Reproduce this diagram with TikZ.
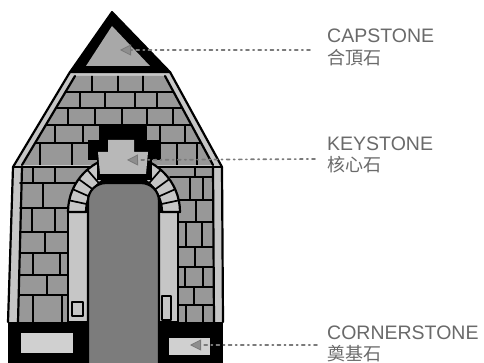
\documentclass[tikz,border=0pt]{standalone}
\usepackage{fontspec}
\setmainfont{Liberation Sans}
\newfontfamily\cjkfont{Noto Sans CJK TC}
\usetikzlibrary{arrows.meta}
\definecolor{brick}{HTML}{989898}
\definecolor{lightstone}{HTML}{C6C6C6}
\definecolor{doorgray}{HTML}{7C7C7C}
\definecolor{capgray}{HTML}{A8A8A8}
\definecolor{keygray}{HTML}{B8B8B8}
\definecolor{baseinner}{HTML}{D0D0D0}
\definecolor{labelgray}{HTML}{6A6A6A}
\definecolor{pointergray}{HTML}{7A7A7A}
\definecolor{headgray}{HTML}{8E8E8E}
\begin{document}
\begin{tikzpicture}[x=1pt,y=-1pt,line join=round,line cap=round,
  ink/.style={draw=black,line width=2.2pt},
  joint/.style={black,line width=1.7pt},
  pointer/.style={draw=pointergray,line width=1.7pt,dash pattern=on 3pt off 4pt on 1.2pt off 4pt,
    -{Triangle[length=11pt,width=11pt,fill=headgray,line width=0.8pt]}},
  labeltext/.style={anchor=base west,text=labelgray,inner sep=0pt,font=\fontsize{19.5}{22}\selectfont},
  cjktext/.style={anchor=base west,text=labelgray,inner sep=0pt,font=\cjkfont\fontsize{18}{20}\selectfont}]
\useasboundingbox (0,0) rectangle (484,363);
\fill[white] (0,0) rectangle (484,363);

% ---------- roof ----------
\fill[lightstone] (13,167) -- (70,72) -- (170,72) -- (222,167) -- cycle;
\fill[brick] (22,165) -- (75,76) -- (165,76) -- (213,165) -- cycle;
\begin{scope}
  \clip (22,165) -- (75,76) -- (165,76) -- (213,165) -- cycle;
  \foreach \yy in {92,108,125,143} \draw[joint] (0,\yy) -- (240,\yy);
  \draw[joint] (92,76)--(92,92) (118,76)--(118,92) (143,76)--(143,92)
    (80,92)--(80,108) (105,92)--(105,108) (135,92)--(135,108) (157,92)--(157,108)
    (68,108)--(68,125) (95,108)--(95,125) (122,108)--(122,125) (147,108)--(147,125) (173,108)--(173,125)
    (55,125)--(55,143) (83,125)--(83,143) (160,125)--(160,143) (185,125)--(185,143)
    (40,143)--(40,165) (72,143)--(72,165) (177,143)--(177,165) (197,143)--(197,165);
\end{scope}
\draw[ink] (13,167) -- (70,72) -- (170,72) -- (222,167);
\draw[ink] (22,165) -- (75,76);
\draw[ink] (165,76) -- (213,165);

% ---------- capstone ----------
\filldraw[black,line width=2pt] (112,12) -- (70,72) -- (170,72) -- cycle;
\fill[capgray] (112,26) -- (86,66) -- (150,66) -- cycle;

% ---------- walls ----------
\fill[brick] (18,167) rectangle (214,322);
\fill[lightstone] (13,167) -- (22,167) -- (18,322) -- (8,322) -- cycle;
\fill[lightstone] (213,167) -- (222,167) -- (223,322) -- (214,322) -- cycle;
\foreach \yy in {183,208,232,253,275,295} \draw[joint] (20,\yy) -- (76,\yy);
\draw[joint] (33,167)--(33,183) (55,167)--(55,183) (43,183)--(43,208)
  (32,208)--(32,232) (55,208)--(55,232) (45,232)--(45,253)
  (33,253)--(33,275) (60,253)--(60,275) (47,275)--(47,295)
  (33,295)--(33,322) (62,295)--(62,322);
\foreach \yy in {177,200,222,247,267,287,305} \draw[joint] (170,\yy) -- (213,\yy);
\draw[joint] (195,167)--(195,177) (190,177)--(190,200) (203,177)--(203,200)
  (196,200)--(196,222) (186,222)--(186,247) (202,222)--(202,247)
  (195,247)--(195,267) (185,267)--(185,287) (203,267)--(203,287)
  (194,287)--(194,305) (186,305)--(186,322) (203,305)--(203,322);
\draw[ink] (13,167) -- (8,322);
\draw[ink] (22,167) -- (18,322);
\draw[ink] (213,167) -- (214,322);
\draw[ink] (222,167) -- (223,322);
\draw[ink] (13,167) -- (222,167);

% ---------- piers ----------
\filldraw[fill=lightstone,ink] (68,212) rectangle (88,322);
\filldraw[fill=lightstone,ink] (159,212) rectangle (178,322);
\draw[joint] (72,302) rectangle (83,316);
\draw[joint] (162,296) rectangle (171,320);

% ---------- arch ----------
\filldraw[fill=lightstone,ink] (68,212) arc[start angle=180,end angle=360,radius=56]
  -- (162,212) arc[start angle=360,end angle=180,radius=38] -- cycle;
\foreach \a in {192,204,216,229,311,324,336,348}
  \draw[joint] ([shift={(\a:38)}]124,212) -- ([shift={(\a:56)}]124,212);
\fill[black] (86,212) arc[start angle=180,end angle=360,radius=38] -- cycle;

% ---------- keystone ----------
\filldraw[black,line width=1pt] (99,127) -- (146,127) -- (146,141) -- (160,141) -- (160,160)
  -- (151,160) -- (151,180) -- (97,180) -- (97,160) -- (88,160) -- (88,141) -- (99,141) -- cycle;
\fill[keygray] (108,140) -- (134,140) -- (134,152) -- (148,152) -- (146,174)
  -- (100,174) -- (98,152) -- (108,152) -- cycle;

% ---------- door ----------
\filldraw[fill=doorgray,ink] (88,363) -- (88,201) arc[start angle=180,end angle=270,radius=18]
  -- (141,183) arc[start angle=270,end angle=360,radius=18] -- (159,363);

% ---------- base blocks ----------
\fill[black] (8,322) rectangle (88,363);
\filldraw[fill=baseinner,draw=black,line width=1pt] (20,332) rectangle (73,353);
\fill[black] (158,322) rectangle (223,363);
\filldraw[fill=baseinner,draw=black,line width=1pt] (168,337) rectangle (210,355);

% ---------- labels ----------
\node[labeltext] (capEn) at (327,43) {CAPSTONE};
\node[cjktext] (capZh) at (327,65) {合頂石};
\node[labeltext] (keyEn) at (327,151) {KEYSTONE};
\node[cjktext] (keyZh) at (327,172) {核心石};
\node[labeltext] (cornEn) at (327,339) {CORNERSTONE};
\node[cjktext] (cornZh) at (327,360) {奠基石};

\coordinate (capTail) at (310,50);
\coordinate (capHead) at (120,50);
\coordinate (keyTail) at (315,159);
\coordinate (keyHead) at (127,160);
\coordinate (cornTail) at (317,345);
\coordinate (cornHead) at (190,345);
\draw[pointer] (capTail) -- (capHead);
\draw[pointer] (keyTail) -- (keyHead);
\draw[pointer] (cornTail) -- (cornHead);
\end{tikzpicture}
\end{document}
